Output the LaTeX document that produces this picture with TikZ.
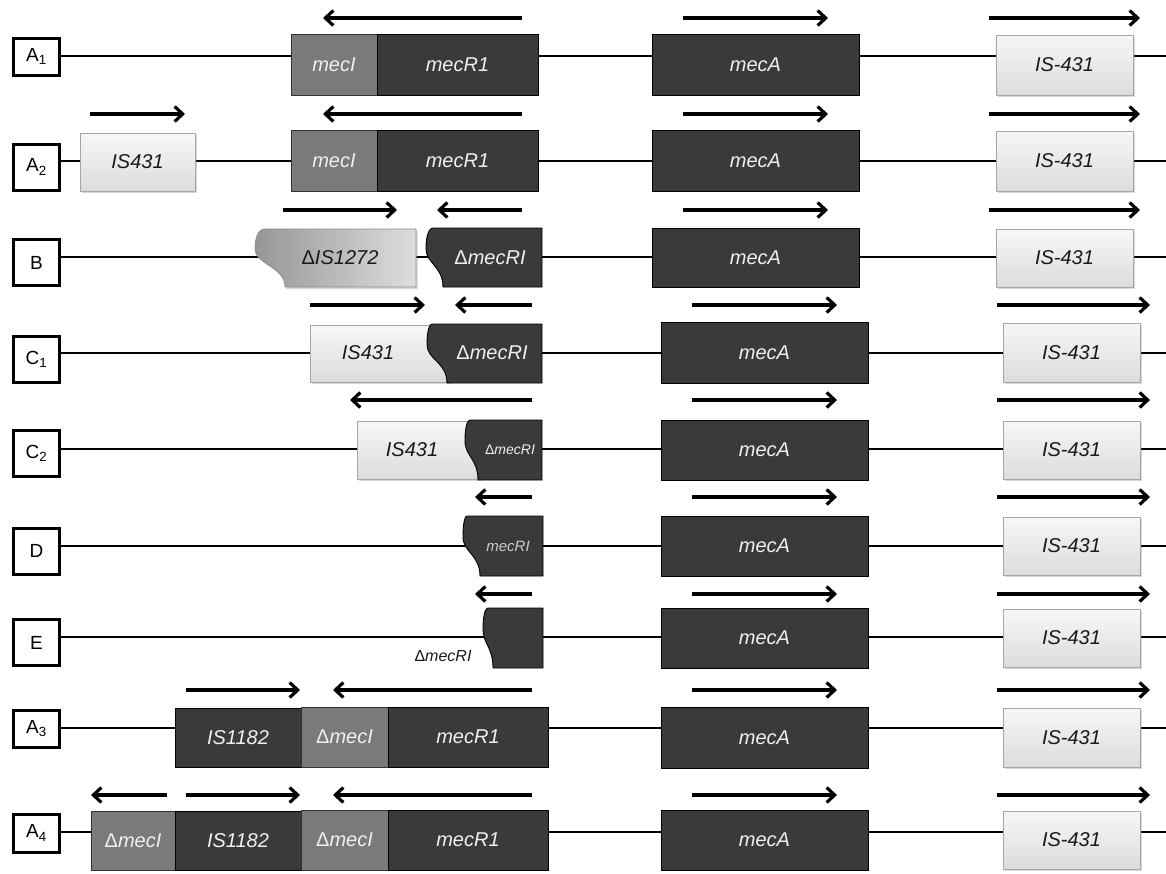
\documentclass[tikz,border=0pt]{standalone}
\usepackage{fontspec}
\setmainfont{Liberation Sans}
\usetikzlibrary{arrows.meta,shadows}
\definecolor{gdark}{RGB}{58,58,58}
\definecolor{gmid}{RGB}{122,122,122}
\definecolor{glt1}{RGB}{247,247,247}
\definecolor{glt2}{RGB}{220,220,220}
\definecolor{gis1}{RGB}{150,150,150}
\definecolor{gis2}{RGB}{222,222,222}
\definecolor{gtxt}{RGB}{240,240,240}
\newcommand\gfont{\fontsize{20}{24}\selectfont\itshape}
\newcommand\gbox[7]{\node[#2, minimum width={#5-#4}, minimum height={#7-#6}] (#1) at ({(#4+#5)/2},{(#6+#7)/2}) {#3};}
\newcommand\wavegene[7]{\draw[#1] (#2,#6) -- (#5,#6) -- (#5,#7) -- (#4,#7) .. controls (#4,{#7-0.35*(#7-#6)}) and (#3,{#6+0.6*(#7-#6)}) .. (#3,{#6+0.35*(#7-#6)}) .. controls (#3,{#6+0.08*(#7-#6)}) and ({#2-0.4*(#2-#3)},#6) .. (#2,#6) -- cycle;}
\begin{document}
\begin{tikzpicture}[x=1pt,y=-1pt,
 lab/.style={draw=black, line width=3pt, fill=white, minimum width=46pt, inner sep=0pt, font=\fontsize{19}{22}\selectfont},
 bb/.style={line width=2pt, draw=black},
 arr/.style={line width=3.2pt, -{Straight Barb[length=8pt,width=15pt]}},
 dk/.style={draw=black, line width=0.9pt, fill=gdark, text=gtxt, font=\gfont, inner sep=0pt},
 md/.style={draw=black!80, line width=0.9pt, fill=gmid, text=gtxt, font=\gfont, inner sep=0pt},
 lt/.style={draw=black!35, line width=0.7pt, top color=glt1, bottom color=glt2, text=black!90, font=\gfont, inner sep=0pt, drop shadow={shadow xshift=1.5pt, shadow yshift=-2pt, opacity=0.3}},
 dkw/.style={draw=black, line width=0.9pt, fill=gdark},
 isw/.style={draw=black!45, line width=0.7pt, left color=gis1, right color=gis2, drop shadow={shadow xshift=1.5pt, shadow yshift=-2pt, opacity=0.3}},
 wt/.style={text=gtxt, font=\gfont, inner sep=0pt},
 bt/.style={text=black!90, font=\gfont, inner sep=0pt},
]
\useasboundingbox[fill=white] (0,0) rectangle (1166,873);

% ---------- labels ----------
\node[lab, minimum height=37pt] (lA1) at (36.5,56.5) {A\textsubscript{1}};
\node[lab, minimum height=46pt] (lA2) at (36.5,167) {A\textsubscript{2}};
\node[lab, minimum height=46pt] (lB) at (36.5,262.5) {B};
\node[lab, minimum height=46pt] (lC1) at (36.5,359) {C\textsubscript{1}};
\node[lab, minimum height=46pt] (lC2) at (36.5,453.5) {C\textsubscript{2}};
\node[lab, minimum height=46pt] (lD) at (36.5,551) {D};
\node[lab, minimum height=46pt] (lE) at (36.5,642.5) {E};
\node[lab, minimum height=37pt] (lA3) at (36.5,728.5) {A\textsubscript{3}};
\node[lab, minimum height=38pt] (lA4) at (36.5,833) {A\textsubscript{4}};

% ---------- backbones ----------
\coordinate (eA1) at (1166,56);
\coordinate (eA2) at (1166,161);
\coordinate (eB) at (1166,257);
\coordinate (eC1) at (1166,353);
\coordinate (eC2) at (1166,449);
\coordinate (eD) at (1166,546);
\coordinate (eE) at (1166,637);
\coordinate (eA3) at (1166,728);
\coordinate (eA4) at (1166,832);
\foreach \r in {A1,A2,B,C1,C2,D,E,A3,A4}{\draw[bb] (l\r.east |- e\r) -- (e\r);}

% ---------- row A1 ----------
\gbox{A1i}{md}{mecI}{291}{377}{34}{95}
\gbox{A1r}{dk}{mecR1}{377}{538}{34}{95}
\gbox{A1a}{dk}{mecA}{652}{859}{34}{95}
\gbox{A1s}{lt}{IS-431}{996}{1133}{35}{95}
\draw[arr] (522,18) -- (323,18);
\draw[arr] (683,18) -- (828,18);
\draw[arr] (989,18) -- (1140,18);

% ---------- row A2 ----------
\gbox{A2p}{lt}{IS431}{80}{195}{133}{191}
\gbox{A2i}{md}{mecI}{291}{377}{130}{191}
\gbox{A2r}{dk}{mecR1}{377}{538}{130}{191}
\gbox{A2a}{dk}{mecA}{652}{859}{130}{191}
\gbox{A2s}{lt}{IS-431}{996}{1133}{131}{191}
\draw[arr] (90,114) -- (185,114);
\draw[arr] (522,114) -- (323,114);
\draw[arr] (683,114) -- (828,114);
\draw[arr] (989,114) -- (1140,114);

% ---------- row B ----------
\wavegene{isw}{264}{255}{285}{416}{229}{287}
\node[bt] (Bis) at (340,258) {\upshape Δ\itshape IS1272};
\wavegene{dkw}{433}{426}{443}{542}{228}{287}
\node[wt] (Bmr) at (490,258) {\upshape Δ\itshape mecRI};
\gbox{Ba}{dk}{mecA}{652}{859}{228}{287}
\gbox{Bs}{lt}{IS-431}{996}{1133}{229}{287}
\draw[arr] (283,210) -- (397,210);
\draw[arr] (522,210) -- (437,210);
\draw[arr] (683,210) -- (828,210);
\draw[arr] (989,210) -- (1140,210);

% ---------- row C1 ----------
\gbox{C1p}{lt}{}{310}{450}{325}{382}
\node[bt] (C1pt) at (368,353) {IS431};
\wavegene{dkw}{432}{427}{447}{542}{324}{383}
\node[wt] (C1mr) at (492,353) {\upshape Δ\itshape mecRI};
\gbox{C1a}{dk}{mecA}{661}{868}{322}{383}
\gbox{C1s}{lt}{IS-431}{1003}{1140}{323}{382}
\draw[arr] (310,305) -- (425,305);
\draw[arr] (532,305) -- (455,305);
\draw[arr] (692,305) -- (837,305);
\draw[arr] (997,305) -- (1150,305);

% ---------- row C2 ----------
\gbox{C2p}{lt}{}{357}{480}{421}{479}
\node[bt] (C2pt) at (412,450) {IS431};
\wavegene{dkw}{470}{465}{478}{542}{420}{480}
\node[wt, font=\fontsize{14}{16}\selectfont\itshape] (C2mr) at (510,450) {\upshape Δ\itshape mecRI};
\gbox{C2a}{dk}{mecA}{661}{868}{420}{480}
\gbox{C2s}{lt}{IS-431}{1003}{1140}{421}{479}
\draw[arr] (532,400) -- (350,400);
\draw[arr] (692,400) -- (837,400);
\draw[arr] (997,400) -- (1150,400);

% ---------- row D ----------
\wavegene{dkw}{467}{463}{480}{543}{516}{576}
\node[wt, text=black!20, font=\fontsize{15}{18}\selectfont\itshape] (Dmr) at (508,546) {mecRI};
\gbox{Da}{dk}{mecA}{661}{868}{516}{576}
\gbox{Ds}{lt}{IS-431}{1003}{1140}{517}{575}
\draw[arr] (532,497) -- (475,497);
\draw[arr] (692,497) -- (837,497);
\draw[arr] (997,497) -- (1150,497);

% ---------- row E ----------
\wavegene{dkw}{488}{483}{493}{543}{608}{668}
\node[bt, font=\fontsize{16}{18}\selectfont\itshape] (Emr) at (443,656) {\upshape Δ\itshape mecRI};
\gbox{Ea}{dk}{mecA}{661}{868}{608}{668}
\gbox{Es}{lt}{IS-431}{1003}{1140}{609}{667}
\draw[arr] (532,594) -- (475,594);
\draw[arr] (692,594) -- (837,594);
\draw[arr] (997,594) -- (1150,594);

% ---------- row A3 ----------
\gbox{A3b}{dk}{IS1182}{175}{301}{708}{767}
\gbox{A3i}{md}{\upshape Δ\itshape mecI}{301}{388}{707}{767}
\gbox{A3r}{dk}{mecR1}{388}{548}{707}{767}
\gbox{A3a}{dk}{mecA}{661}{868}{707}{768}
\gbox{A3s}{lt}{IS-431}{1003}{1140}{708}{767}
\draw[arr] (186,690) -- (300,690);
\draw[arr] (532,690) -- (333,690);
\draw[arr] (692,690) -- (837,690);
\draw[arr] (997,690) -- (1150,690);

% ---------- row A4 ----------
\gbox{A4j}{md}{\upshape Δ\itshape mecI}{91}{175}{811}{870}
\gbox{A4b}{dk}{IS1182}{175}{301}{811}{870}
\gbox{A4i}{md}{\upshape Δ\itshape mecI}{301}{388}{810}{870}
\gbox{A4r}{dk}{mecR1}{388}{548}{810}{870}
\gbox{A4a}{dk}{mecA}{661}{868}{810}{870}
\gbox{A4s}{lt}{IS-431}{1003}{1140}{811}{869}
\draw[arr] (167,795) -- (91,795);
\draw[arr] (186,795) -- (300,795);
\draw[arr] (532,795) -- (333,795);
\draw[arr] (692,795) -- (837,795);
\draw[arr] (997,795) -- (1150,795);
\end{tikzpicture}
\end{document}
